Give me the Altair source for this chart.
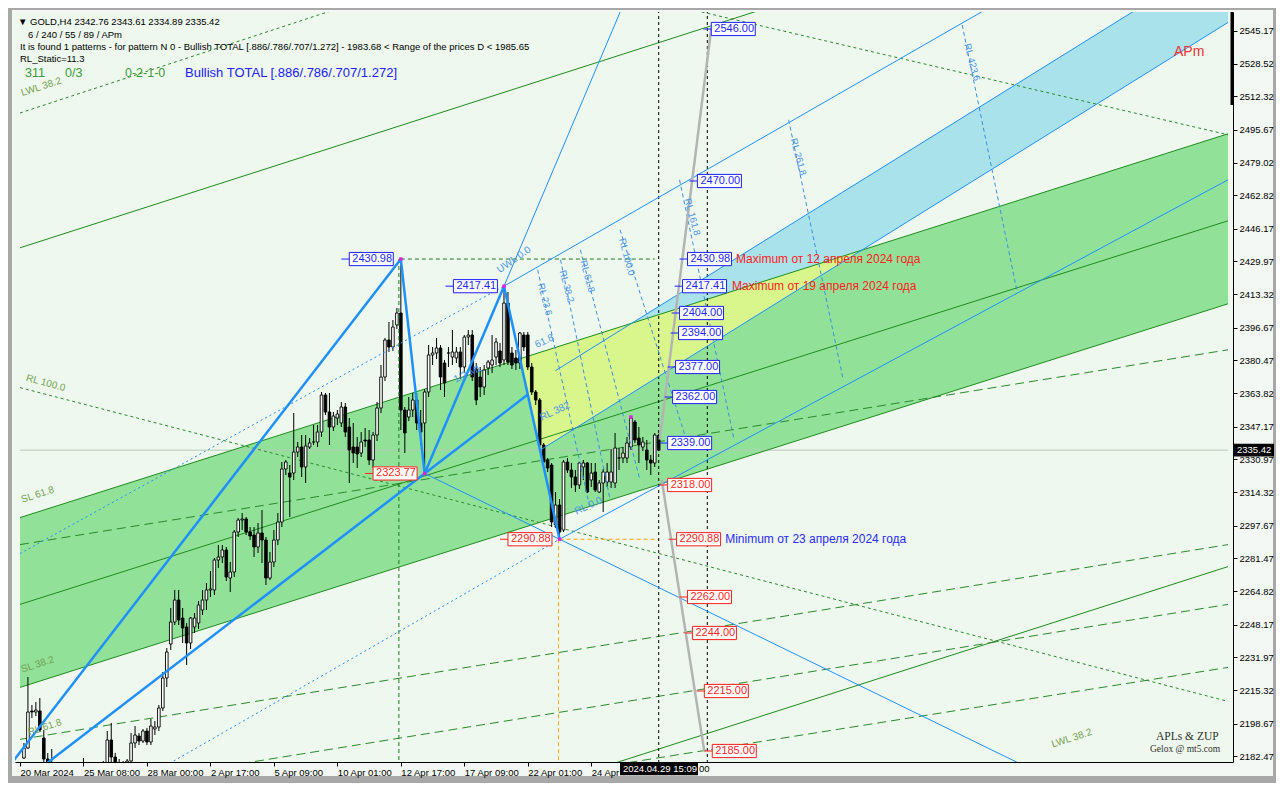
import altair as alt
import pandas as pd

FONT = "Liberation Sans"
BLUE = "#1e90ff"
LBL_BLUE = "#1f1fff"
LBL_RED = "#ff1f1f"
DKGREEN = "#1e8c1e"

# ---------------- candles (GOLD H4) ----------------
bars = list(range(1, 162))
opens = [2181.5, 2186.5, 2205, 2204.5, 2205, 2191.5, 2181, 2178, 2172, 2168,
         2163, 2166, 2170, 2165, 2168, 2172, 2175, 2171, 2169, 2174,
         2176, 2178, 2190.5, 2182, 2179, 2175, 2177, 2180, 2189, 2192.5,
         2190, 2195, 2189.5, 2196, 2197, 2206.5, 2221.5, 2238.5, 2249.5, 2260.5,
         2251.5, 2247, 2239, 2247, 2249, 2255.5, 2260.5, 2265.5, 2265.5, 2280.5,
         2282, 2285.5, 2271.5, 2274.5, 2294.5, 2300.5, 2301, 2294.5, 2293, 2287,
         2294, 2290.5, 2271.5, 2279.5, 2290.5, 2299.5, 2326, 2324, 2324, 2334.5,
         2337, 2327, 2337, 2339.5, 2339.5, 2344.5, 2363, 2354.5, 2347, 2351.5,
         2349, 2357, 2347, 2337, 2337, 2334, 2340.5, 2340.5, 2330.5, 2343,
         2356.5, 2372, 2390.5, 2387, 2398, 2404, 2355.5, 2352, 2355.5, 2360.5,
         2349, 2349, 2364.5, 2383, 2384, 2386.5, 2379, 2384, 2382, 2381.5,
         2384.5, 2377, 2392, 2393, 2376, 2372, 2367, 2376.5, 2378, 2382,
         2385, 2380.5, 2409, 2384, 2381.5, 2379, 2393, 2393, 2377, 2364.5,
         2360.5, 2338, 2330.5, 2328, 2298, 2308, 2295.5, 2329.5, 2325.5, 2322,
         2318, 2327, 2329, 2320.5, 2324.5, 2314.5, 2319, 2319.5, 2319.5, 2319,
         2331.5, 2331.5, 2331.5, 2337, 2349.5, 2341.5, 2337, 2335.5, 2330.5, 2329,
         2342.76]
highs = [2189, 2222, 2208, 2209.5, 2211.5, 2195.5, 2184, 2186, 2176, 2171,
         2170, 2174, 2173, 2172, 2176, 2181.5, 2178, 2175, 2177, 2179,
         2180, 2195, 2199, 2184, 2181, 2180, 2181, 2194, 2197.5, 2194,
         2196, 2196.5, 2201, 2200, 2208, 2224.5, 2236.5, 2256.5, 2265.5, 2265.5,
         2256.5, 2249, 2252, 2254, 2260, 2265.5, 2269, 2275, 2281.5, 2288,
         2288, 2287, 2279.5, 2295.5, 2301.5, 2304, 2302, 2297, 2297, 2299,
         2305.5, 2292, 2284.5, 2295.5, 2304, 2329.5, 2330.5, 2328, 2354, 2339.5,
         2343, 2343, 2341.5, 2348, 2348, 2364.5, 2364, 2364, 2354.5, 2355.5,
         2359.5, 2359, 2351.5, 2349, 2342, 2344.5, 2346.5, 2345.5, 2344.5, 2359.5,
         2378, 2391.5, 2399.5, 2400.5, 2406.5, 2430.98, 2357, 2362, 2364, 2364,
         2355.5, 2366, 2388, 2387, 2391.5, 2388, 2380.5, 2387, 2395.5, 2387,
         2387, 2393, 2395.5, 2395.5, 2379, 2377, 2378, 2380.5, 2393, 2391.5,
         2389, 2417.41, 2414.5, 2387, 2385.5, 2394.5, 2394.5, 2394.5, 2379, 2365.5,
         2361.5, 2339, 2331.5, 2329, 2314.5, 2311, 2330.5, 2331.5, 2329, 2325.5,
         2329.5, 2330.5, 2329.5, 2329, 2329, 2320.5, 2326, 2329, 2336, 2344,
         2336.5, 2337, 2342, 2352, 2350.5, 2347, 2342, 2340.5, 2333, 2344,
         2343.61]
lows = [2181, 2186, 2201.5, 2202.5, 2194.5, 2178, 2172, 2168, 2162, 2158,
        2159, 2162, 2160, 2161, 2164, 2168, 2166, 2163, 2165, 2170,
        2172, 2176, 2179, 2174, 2170, 2171, 2174, 2178, 2186.5, 2188,
        2189, 2188, 2188, 2193, 2195, 2205, 2217, 2235.5, 2248, 2248,
        2239, 2228, 2236, 2244, 2246, 2253, 2255.5, 2262, 2263, 2276.5,
        2279, 2270, 2264.5, 2272, 2292, 2295.5, 2293, 2290.5, 2282, 2284,
        2279, 2268, 2270.5, 2277, 2288, 2297, 2323, 2302, 2320.5, 2332,
        2322, 2319, 2336, 2338, 2337, 2342, 2353, 2338, 2345, 2348,
        2347, 2342, 2319, 2329, 2326.5, 2332, 2337, 2328, 2326.5, 2340,
        2354, 2370, 2384.5, 2385, 2396, 2345.5, 2334, 2350, 2352, 2345.5,
        2338, 2323.77, 2362, 2378, 2381, 2365.5, 2362, 2377, 2378, 2379,
        2371, 2374, 2388, 2370, 2358, 2362, 2363, 2373, 2374, 2378,
        2377, 2378, 2378, 2376, 2375.5, 2376, 2385, 2375.5, 2363, 2358,
        2337, 2329, 2324.5, 2297, 2296.5, 2290.88, 2294.5, 2324, 2316.5, 2314.5,
        2316, 2320.5, 2314, 2317, 2314.5, 2314, 2304.5, 2317, 2316.5, 2316.5,
        2325.5, 2329, 2329, 2335.5, 2339, 2329, 2335, 2325.5, 2323, 2327,
        2334.89]
closes = [2186.5, 2204.5, 2204.5, 2205.5, 2195.5, 2181, 2176, 2172, 2168, 2163,
          2166, 2170, 2165, 2168, 2172, 2175, 2171, 2169, 2174, 2176,
          2178, 2190.5, 2182, 2179, 2175, 2177, 2180, 2189, 2193, 2190,
          2195, 2189.5, 2197.5, 2197, 2206.5, 2221.5, 2234.5, 2249.5, 2260.5, 2250.5,
          2246.5, 2239, 2251.5, 2251.5, 2258, 2260.5, 2265.5, 2266, 2280.5, 2282,
          2285.5, 2272, 2274.5, 2294.5, 2300.5, 2301, 2294.5, 2292.5, 2287, 2294,
          2290.5, 2271.5, 2279.5, 2290.5, 2299.5, 2326, 2329.5, 2322, 2334.5, 2337,
          2327, 2337.5, 2339, 2339.5, 2344.5, 2363, 2354.5, 2347, 2352.5, 2353.5,
          2357, 2344.5, 2335.5, 2334, 2333.5, 2339.5, 2340, 2330.5, 2343, 2356.5,
          2372, 2390.5, 2387, 2397, 2404, 2355.5, 2344, 2355.5, 2360.5, 2349,
          2344.5, 2364.5, 2383, 2384, 2386.5, 2372, 2369, 2384, 2384.5, 2384.5,
          2377, 2392, 2393, 2372, 2360.5, 2367, 2375.5, 2379.5, 2380.5, 2389.5,
          2379, 2409, 2379.5, 2378, 2379, 2394, 2387, 2377, 2364.5, 2360.5,
          2338, 2329.5, 2326.5, 2299.5, 2308, 2294.5, 2329.5, 2325.5, 2322, 2318,
          2329, 2329, 2314.5, 2324, 2315.5, 2319, 2324.5, 2324.5, 2324.5, 2336.5,
          2331.5, 2334, 2339, 2351.5, 2340.5, 2338, 2339.5, 2330.5, 2329, 2343,
          2335.42]

# ---------------- axes ----------------
x_tick_bars = [0, 16, 32, 48, 64, 80, 96, 112, 128, 144]
x_tick_labels = ["20 Mar 2024", "25 Mar 08:00", "28 Mar 00:00", "2 Apr 17:00", "5 Apr 09:00",
                 "10 Apr 01:00", "12 Apr 17:00", "17 Apr 09:00", "22 Apr 01:00", "24 Apr"]
x_tail_label = "00"
y_tick_values = [2182.47, 2198.67, 2215.32, 2231.97, 2248.17, 2264.82, 2281.47, 2297.67,
                 2314.32, 2330.97, 2347.17, 2363.82, 2380.47, 2396.67, 2413.32, 2429.97,
                 2446.17, 2462.82, 2479.02, 2495.67, 2512.32, 2528.52, 2545.17]
x_domain = [0, 304.5]
y_domain = [2179.5, 2554.5]
last_price = 2335.42
cursor_time = "2024.04.29 15:09"
scroll_mark = [2554.5, 2508.0]

# ---------------- filled zones ----------------
chan_x = [0, 304.5]
chan_lo = [2216.8, 2408.6]
chan_hi = [2301.7, 2493.6]
yel_x = [125.98, 131.03, 212.18]
yel_lo = [2381.15, 2335.35, 2435.4]
yel_hi = [2381.15, 2384.35, 2435.4]
cyan_x = [154.25, 212.18, 304.5]
cyan_lo = [2398.94, 2435.4, 2549.27]
cyan_hi = [2398.94, 2470.38, 2584.24]

# ---------------- lines ----------------
thick_x1 = [-15, -15, 96, 102, 122, 102]
thick_y1 = [2145.8, 2145.8, 2430.98, 2323.77, 2417.41, 2323.77]
thick_x2 = [96, 102, 102, 122, 136, 128]
thick_y2 = [2430.98, 2323.77, 2323.77, 2417.41, 2290.88, 2363.2]

thin_x1 = [122, 122, 136, 102, 131.03, 135]
thin_y1 = [2417.41, 2417.41, 2290.88, 2323.77, 2335.35, 2375.2]
thin_x2 = [156, 304.5, 304.5, 270, 304.5, 304.5]
thin_y2 = [2576.6, 2625.3, 2470.6, 2161.3, 2549.27, 2584.2]

dot_x1 = [0, 30]
dot_y1 = [2283.7, 2170.0]
dot_x2 = [122, 136]
dot_y2 = [2417.41, 2290.88]

rl_x1 = [130.5, 136.25, 141.25, 151.25, 166.25, 193.75, 237.5]
rl_y1 = [2425.6, 2430.6, 2435.6, 2445.6, 2470.6, 2500.6, 2548.0]
rl_x2 = [143.75, 148.75, 156.25, 168.75, 180, 207.5, 251.25]
rl_y2 = [2305.7, 2310.7, 2320.7, 2335.7, 2340.7, 2370.7, 2415.6]

gs_x1 = [0, 0, 0, 0, 100]
gs_y1 = [2301.7, 2216.8, 2258.3, 2436.6, 2147.2]
gs_x2 = [304.5, 304.5, 304.5, 304.5, 304.5]
gs_y2 = [2493.6, 2408.6, 2450.1, 2630.6, 2277.2]

gd_x1 = [0, 0, 0, 0]
gd_y1 = [2288.2, 2190.8, 2160.8, 2130.9]
gd_x2 = [304.5, 304.5, 304.5, 304.5]
gd_y2 = [2385.6, 2288.2, 2258.3, 2226.8]

gf_x1 = [0, 0, 160]
gf_y1 = [2366.7, 2504.0, 2560.0]
gf_x2 = [304.5, 304.5, 304.5]
gf_y2 = [2209.8, 2702.4, 2493.1]

proj_x1 = [161.25, 161.75]
proj_y1 = [2340.7, 2320.7]
proj_x2 = [174.25, 172.5]
proj_y2 = [2546.5, 2184.8]

# level marks: A level, D level, verticals
a_level = [96, 160, 2430.98]
d_level = [136, 161, 2290.88]
green_vline = [95.5, 2430.98]
orange_vline = [135.75, 2290.88]
black_vlines = [161, 173.25]

# ---------------- price labels ----------------
lab_bar = [174.25, 170.75, 168.25, 167, 166.25, 166, 165.25, 164.5, 163.25,
           163.25, 165.5, 168.25, 169.5, 172.5, 174.5,
           83, 109.25, 89, 123]
lab_price = [2546.00, 2470.00, 2430.98, 2417.41, 2404.00, 2394.00, 2377.00, 2362.00, 2339.00,
             2318.00, 2290.88, 2262.00, 2244.00, 2215.00, 2185.00,
             2430.98, 2417.41, 2323.77, 2290.88]
lab_kind = ["up"] * 9 + ["down"] * 6 + ["up", "up", "down", "down"]

piv_bar = [96, 102, 122, 136, 154]
piv_price = [2430.98, 2323.77, 2417.41, 2290.88, 2352.0]

note_text = ["Maximum от 12 апреля 2024 года", "Maximum от 19 апреля 2024 года",
             "Minimum от 23 апреля 2024 года"]
note_bar = [180.5, 179.5, 177.75]
note_price = [2430.98, 2417.41, 2290.88]
note_kind = ["down", "down", "up"]

green_lbl_text = ["SL 61.8", "SL 38.2", "LWL 38.2", "RL 61.8", "LWL 38.2"]
green_lbl_bar = [0.75, 0.75, 0.75, 2.5, 260.5]
green_lbl_price = [2308.2, 2223.3, 2511.5, 2191.8, 2185.8]

rl_lbl_text = ["RL 23.6", "RL 38.2", "RL 61.8", "RL 100.0", "RL 161.8", "RL 261.8", "RL 423.6"]
rl_lbl_bar = [130, 135.5, 140.75, 150.5, 167, 193.75, 237.5]
rl_lbl_price = [2418.1, 2424.6, 2429.6, 2440.6, 2460.6, 2490.6, 2538.0]

slant_lbl_text = ["61.8", "RL 382", "RL 0.0", "1/2 ML"]
slant_lbl_bar = [130.5, 131.7, 140.5, 110]
slant_lbl_price = [2385.6, 2349.2, 2302.2, 2368.2]

# ---------------- build ----------------
xs = alt.Scale(domain=x_domain, nice=False, zero=False)
ys = alt.Scale(domain=y_domain, nice=False, zero=False)
one = pd.DataFrame({"k": [0]})

label_expr = "[" + ",".join("'%s'" % s for s in x_tick_labels) + "][round(datum.value/16)]"
x_axis = alt.Axis(values=x_tick_bars, labelExpr=label_expr, orient="bottom", tickSize=4,
                  labelAlign="left", labelPadding=1, labelFontSize=9.5, labelFont=FONT,
                  labelColor="black", tickColor="black", domainColor="black", grid=False,
                  title=None, labelOverlap=False, labelFlush=False, labelBound=False, zindex=2)
y_axis = alt.Axis(orient="right", values=y_tick_values, format=".2f", tickSize=4, labelPadding=2,
                  labelFontSize=9.5, labelFont=FONT, labelColor="black", tickColor="black",
                  domainColor="black", grid=False, title=None, labelOverlap=False,
                  labelFlush=False, labelBound=False, zindex=1)


def X(f):
    return alt.X(f, type="quantitative", scale=xs, axis=x_axis)


def Y(f):
    return alt.Y(f, type="quantitative", scale=ys, axis=y_axis)


def seg_layer(x1, y1, x2, y2, color, width, dash=None):
    df = pd.DataFrame({"x1": x1, "y1": y1, "x2": x2, "y2": y2})
    kw = dict(color=color, strokeWidth=width, clip=True)
    if dash:
        kw["strokeDash"] = dash
    return alt.Chart(df).mark_rule(**kw).encode(x=X("x1"), y=Y("y1"), x2="x2:Q", y2="y2:Q")


def area_layer(xv, lo, hi, color):
    df = pd.DataFrame({"x": xv, "lo": lo, "hi": hi})
    return alt.Chart(df).mark_area(color=color, opacity=1, clip=True, interpolate="linear").encode(
        x=X("x"), y=Y("lo"), y2="hi:Q")


def px_text(s, x, y, color="black", size=9.5, font=FONT, **kw):
    return alt.Chart(pd.DataFrame({"t": [s]})).mark_text(
        align="left", baseline="middle", fontSize=size, color=color, font=font, **kw).encode(
        x=alt.value(x), y=alt.value(y), text="t:N")


layers = []
# frame backgrounds (decorative)
layers.append(alt.Chart(one).mark_rect(color="#f4f8f4").encode(
    x=alt.value(-3), x2=alt.value(1258), y=alt.value(-2), y2=alt.value(764)))
layers.append(alt.Chart(one).mark_rect(color="#eef8ee").encode(
    x=alt.value(0), x2=alt.value(1218), y=alt.value(0), y2=alt.value(750)))

# zones
layers.append(area_layer(chan_x, chan_lo, chan_hi, "#91e199"))
layers.append(area_layer(yel_x, yel_lo, yel_hi, "#d8f68c"))
layers.append(area_layer(cyan_x, cyan_lo, cyan_hi, "#a9e2ea"))

# current price line
layers.append(seg_layer([0], [last_price], [304.5], [last_price], "#b8c8b8", 1))

# green lines
layers.append(seg_layer(gs_x1, gs_y1, gs_x2, gs_y2, DKGREEN, 1))
layers.append(seg_layer(gd_x1, gd_y1, gd_x2, gd_y2, "#2a8a2a", 1, [9, 5]))
layers.append(seg_layer(gf_x1, gf_y1, gf_x2, gf_y2, "#2a8a2a", 1, [3, 3]))

# candles
cdf = pd.DataFrame({"bar": bars, "open": opens, "high": highs, "low": lows, "close": closes})
layers.append(alt.Chart(cdf).mark_rule(color="black", strokeWidth=1, clip=True).encode(
    x=X("bar"), y=Y("low"), y2="high:Q"))
layers.append(alt.Chart(cdf).mark_bar(size=2.6, stroke="black", strokeWidth=0.9, clip=True).encode(
    x=X("bar"), y=Y("open"), y2="close:Q",
    fill=alt.condition("datum.close >= datum.open", alt.value("white"), alt.value("black"))))

# level / vertical dashed marks
layers.append(seg_layer([a_level[0]], [a_level[2]], [a_level[1]], [a_level[2]], "#1e7a1e", 1, [4, 3]))
layers.append(seg_layer([d_level[0]], [d_level[2]], [d_level[1]], [d_level[2]], "#ffa500", 1, [4, 3]))
layers.append(seg_layer([green_vline[0]], [green_vline[1]], [green_vline[0]], [2170], "#1e7a1e", 1, [4, 3]))
layers.append(seg_layer([orange_vline[0]], [orange_vline[1]], [orange_vline[0]], [2170], "#ffa500", 1, [4, 3]))
layers.append(seg_layer(black_vlines, [2170, 2170], black_vlines, [2560, 2560], "black", 1, [3, 3]))

# blue lines
layers.append(seg_layer(dot_x1, dot_y1, dot_x2, dot_y2, BLUE, 1, [2, 3]))
layers.append(seg_layer(rl_x1, rl_y1, rl_x2, rl_y2, "#3a8ee6", 1, [4, 3]))
layers.append(seg_layer(thin_x1, thin_y1, thin_x2, thin_y2, BLUE, 1))
layers.append(seg_layer(thick_x1, thick_y1, thick_x2, thick_y2, BLUE, 2.5))

# projection
layers.append(seg_layer(proj_x1, proj_y1, proj_x2, proj_y2, "#b4b4b4", 2.5))

# pivots
pdf = pd.DataFrame({"bar": piv_bar, "price": piv_price})
layers.append(alt.Chart(pdf).mark_square(size=12, color="#e020e0", opacity=1).encode(
    x=X("bar"), y=Y("price")))

# price label boxes
ldf = pd.DataFrame({"lb": lab_bar, "price": lab_price, "kind": lab_kind})
kind_color = alt.condition("datum.kind == 'up'", alt.value(LBL_BLUE), alt.value(LBL_RED))
BOX = "M0,-0.3L2,-0.3L2,0.3L0,0.3Z"
layers.append(alt.Chart(ldf).transform_calculate(x0="datum.lb - 2").mark_rule(strokeWidth=1).encode(
    x=X("x0"), x2="lb:Q", y=Y("price"), color=kind_color))
layers.append(alt.Chart(ldf).mark_point(shape=BOX, size=1936, filled=False, fill="white",
                                         fillOpacity=1, strokeWidth=1, opacity=1).encode(
    x=X("lb"), y=Y("price"), stroke=kind_color))
layers.append(alt.Chart(ldf).mark_text(align="left", baseline="middle", dx=3, fontSize=11,
                                        font=FONT).encode(
    x=X("lb"), y=Y("price"), text=alt.Text("price:Q", format=".2f"), color=kind_color))

# notes
ndf = pd.DataFrame({"t": note_text, "bar": note_bar, "price": note_price, "kind": note_kind})
layers.append(alt.Chart(ndf).mark_text(align="left", baseline="middle", fontSize=12, font=FONT).encode(
    x=X("bar"), y=Y("price"), text="t:N",
    color=alt.condition("datum.kind == 'up'", alt.value("#2a2aff"), alt.value("#ff2020"))))

# level labels on lines
gdf = pd.DataFrame({"t": green_lbl_text, "bar": green_lbl_bar, "price": green_lbl_price})
layers.append(alt.Chart(gdf).mark_text(align="left", baseline="bottom", fontSize=10, font=FONT,
                                        color="#76a050", angle=342).encode(
    x=X("bar"), y=Y("price"), text="t:N"))
layers.append(alt.Chart(pd.DataFrame({"t": ["RL 100.0"], "bar": [1.25], "price": [2369.2]})).mark_text(
    align="left", baseline="bottom", fontSize=10, font=FONT, color="#76a050", angle=15).encode(
    x=X("bar"), y=Y("price"), text="t:N"))
rdf = pd.DataFrame({"t": rl_lbl_text, "bar": rl_lbl_bar, "price": rl_lbl_price})
layers.append(alt.Chart(rdf).mark_text(align="left", baseline="bottom", fontSize=9.5, font=FONT,
                                        color="#4a94ea", angle=75).encode(
    x=X("bar"), y=Y("price"), text="t:N"))
sdf = pd.DataFrame({"t": slant_lbl_text, "bar": slant_lbl_bar, "price": slant_lbl_price})
layers.append(alt.Chart(sdf).mark_text(align="left", baseline="bottom", fontSize=10, font=FONT,
                                        color="#4a94ea", angle=335).encode(
    x=X("bar"), y=Y("price"), text="t:N"))
layers.append(alt.Chart(pd.DataFrame({"t": ["UWL 0.0"], "bar": [121.25], "price": [2423.1]})).mark_text(
    align="left", baseline="bottom", fontSize=10, font=FONT, color="#4a94ea", angle=325).encode(
    x=X("bar"), y=Y("price"), text="t:N"))

# scroll mark at the top of the price axis
layers.append(alt.Chart(pd.DataFrame({"a": [scroll_mark[0]], "b": [scroll_mark[1]]})).mark_rule(
    color="black", strokeWidth=3).encode(x=alt.value(1217), y=Y("a"), y2="b:Q"))

# current price tag on the axis and crosshair time tag
layers.append(alt.Chart(pd.DataFrame({"p": [last_price]})).mark_point(
    shape="M0,-0.32L2,-0.32L2,0.32L0,0.32Z", size=1600, filled=True, color="black", opacity=1).encode(
    x=alt.value(1219), y=Y("p")))
layers.append(alt.Chart(pd.DataFrame({"p": [last_price]})).mark_text(
    align="left", baseline="middle", dx=3, fontSize=9.5, font=FONT, color="white").encode(
    x=alt.value(1219), y=Y("p"), text=alt.Text("p:Q", format=".2f")))
layers.append(alt.Chart(one).mark_point(shape="M0,-0.16L2,-0.16L2,0.16L0,0.16Z", size=6084,
                                         filled=True, color="black", opacity=1).encode(
    x=alt.value(605), y=alt.value(757)))
layers.append(px_text(cursor_time, 608, 757, color="white", size=9.5))
layers.append(px_text(x_tail_label, 684, 757, color="black", size=9.5))

# header and corner texts
layers.append(px_text("\u25BC GOLD,H4  2342.76 2343.61 2334.89 2335.42", 3, 10))
layers.append(px_text("6 / 240 / 55 / 89 / APm", 13, 23))
layers.append(px_text("It is found 1 patterns  -  for pattern N 0 - Bullish TOTAL [.886/.786/.707/1.272] - 1983.68 < Range of the prices D < 1985.65",
                      5, 35))
layers.append(px_text("RL_Static=11.3", 5, 47))
layers.append(px_text("311", 10, 61, color="#3c9a3c", size=12.5))
layers.append(px_text("0/3", 50, 61, color="#3c9a3c", size=12.5))
layers.append(px_text("0-2-1-0", 110, 61, color="#3c9a3c", size=12.5))
layers.append(px_text("Bullish TOTAL [.886/.786/.707/1.272]", 170, 61, color="#2020ff", size=13))
layers.append(px_text("APm", 1159, 40, color="#f03030", size=14))
layers.append(px_text("APLs & ZUP", 1141, 725, color="#303030", size=11.5, font="Liberation Serif"))
layers.append(px_text("Gelox @ mt5.com", 1135, 737, color="#303030", size=9.5, font="Liberation Serif"))

chart = alt.layer(*layers).properties(
    width=1218, height=750,
    autosize=alt.AutoSizeParams(type="none"),
    padding={"left": 7, "top": 4, "right": 43, "bottom": 21},
    background="#a8a8a8",
).configure_view(stroke=None).configure(font=FONT)

chart.save("out.html", embed_options={"renderer": "svg", "actions": False})
